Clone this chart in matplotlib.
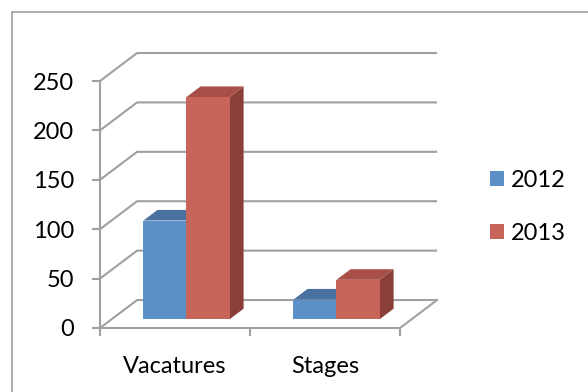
import matplotlib.pyplot as plt
from matplotlib.patches import Polygon, Patch
from matplotlib.lines import Line2D

plt.rcParams['font.family'] = ['Lato', 'DejaVu Sans']

categories = ['Vacatures', 'Stages']
years = ['2012', '2013']
values_2012 = [100, 20]
values_2013 = [225, 40]
y_ticks = [0, 50, 100, 150, 200, 250]

front_colors = ['#5B91C7', '#C8655B']
top_colors = ['#4A72A0', '#A85048']
side_colors = ['#3F638C', '#8A4039']
grid_color = '#A0A0A0'

# oblique depth of the box, in data units
DX = 0.247
DY = 28.3
bar_w = 0.287
d0, d1 = 0.31, 0.69

fig = plt.figure(figsize=(5.88, 3.92), dpi=100)
ax = fig.add_axes([100 / 588, 1 - 328 / 392, 300 / 588, 247 / 392])
ax.set_xlim(0, 2)
ax.set_ylim(0, 250)
ax.patch.set_visible(False)
for s in ['top', 'right']:
    ax.spines[s].set_visible(False)
for s in ['left', 'bottom']:
    ax.spines[s].set_color(grid_color)
    ax.spines[s].set_linewidth(1.5)

ax.set_yticks(y_ticks)
ax.set_yticklabels([str(t) for t in y_ticks])
ax.tick_params(axis='y', length=5.5, width=1.5, color=grid_color, pad=13, labelsize=17)
ax.set_xticks([0, 1, 2])
ax.set_xticklabels(['', '', ''])
ax.tick_params(axis='x', which='major', length=5.5, width=1.5, color=grid_color)
ax.set_xticks([0.5, 1.5], minor=True)
ax.set_xticklabels(categories, minor=True)
ax.tick_params(axis='x', which='minor', length=0, pad=20, labelsize=17)

# back wall gridlines and floor
for t in y_ticks:
    ax.plot([0, DX, 2 + DX], [t, t + DY, t + DY], color=grid_color, lw=1.5,
            clip_on=False, zorder=1, solid_capstyle='butt')
ax.plot([2, 2 + DX], [0, DY], color=grid_color, lw=1.5, clip_on=False, zorder=1)


def draw_bar(x0, v, i):
    x1 = x0 + bar_w
    side = [(x1 + d0 * DX, d0 * DY), (x1 + d1 * DX, d1 * DY),
            (x1 + d1 * DX, v + d1 * DY), (x1 + d0 * DX, v + d0 * DY)]
    top = [(x0 + d0 * DX, v + d0 * DY), (x1 + d0 * DX, v + d0 * DY),
           (x1 + d1 * DX, v + d1 * DY), (x0 + d1 * DX, v + d1 * DY)]
    front = [(x0 + d0 * DX, d0 * DY), (x1 + d0 * DX, d0 * DY),
             (x1 + d0 * DX, v + d0 * DY), (x0 + d0 * DX, v + d0 * DY)]
    for pts, c in [(side, side_colors[i]), (top, top_colors[i]), (front, front_colors[i])]:
        ax.add_patch(Polygon(pts, closed=True, facecolor=c, edgecolor='none',
                             clip_on=False, zorder=3))


for k in range(len(categories)):
    center = k + 0.5
    draw_bar(center - bar_w, values_2012[k], 0)
    draw_bar(center, values_2013[k], 1)

handles = [Patch(facecolor=front_colors[i], edgecolor='none') for i in range(2)]
fig.legend(handles, years, loc='center left', bbox_to_anchor=(490 / 588, 1 - 207 / 392),
           frameon=False, fontsize=17, handlelength=0.6, handleheight=0.6,
           handletextpad=0.3, labelspacing=1.35, borderpad=0, borderaxespad=0)

# chart area border
fig.add_artist(Line2D([12 / 588, 12 / 588], [0, 1 - 12 / 392], color='#A0A0A0', lw=1.2))
fig.add_artist(Line2D([12 / 588, 1], [1 - 12 / 392, 1 - 12 / 392], color='#A0A0A0', lw=1.2))

fig.savefig('out.png', dpi=100)
